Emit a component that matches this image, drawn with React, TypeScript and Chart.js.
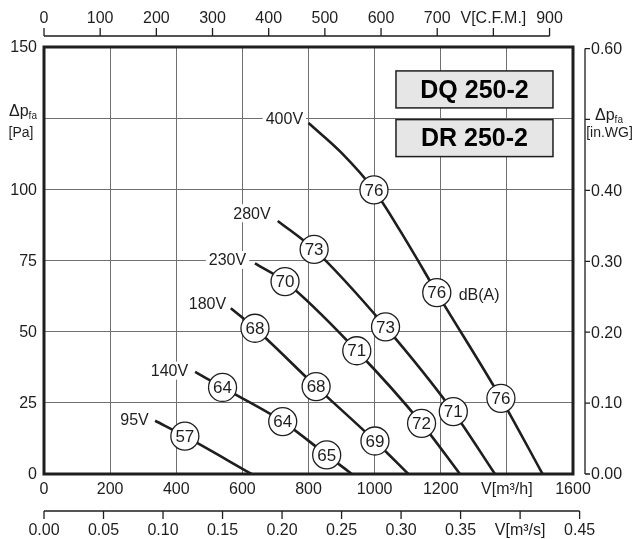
import React, { useEffect, useRef } from 'react';
import { Chart, registerables } from 'chart.js';

Chart.register(...registerables);

const FONT = '"Liberation Sans", Arial, Helvetica, sans-serif';

// ---- Data ----
const voltages = ['400V', '280V', '230V', '180V', '140V', '95V'];

// fan curves: [V m3/h, dp Pa]
const curve400 = [[800, 123.3], [900, 112.8], [998, 99.8], [1107, 79.7], [1188, 63.7], [1382, 26.6], [1508, 0]];
const curve280 = [[707, 88.9], [817, 78.9], [1033, 51.7], [1238, 21.9], [1364, 0]];
const curve230 = [[638, 74.0], [729, 67.6], [946, 43.3], [1142, 17.8], [1258, 0]];
const curve180 = [[565, 58.2], [638, 51.2], [823, 30.7], [1001, 11.6], [1102, 0]];
const curve140 = [[457, 35.9], [540, 30.4], [722, 18.4], [855, 6.7], [931, 0]];
const curve95 = [[336, 18.7], [426, 13.3], [628, 0]];
const curves = [curve400, curve280, curve230, curve180, curve140, curve95];

// sound level marks: [V m3/h, dp Pa, dB(A)]
const noise400 = [[998, 99.8, 76], [1188, 63.7, 76], [1382, 26.6, 76]];
const noise280 = [[817, 78.9, 73], [1033, 51.7, 73], [1238, 21.9, 71]];
const noise230 = [[729, 67.6, 70], [946, 43.3, 71], [1142, 17.8, 72]];
const noise180 = [[638, 51.2, 68], [823, 30.7, 68], [1001, 11.6, 69]];
const noise140 = [[540, 30.4, 64], [722, 18.4, 64], [855, 6.7, 65]];
const noise95 = [[426, 13.3, 57]];
const noisePoints = [...noise400, ...noise280, ...noise230, ...noise180, ...noise140, ...noise95];

// voltage label anchors (data units)
const voltLabelX = [727, 629, 555, 494.5, 379.6, 273.7];
const voltLabelY = [124.7, 91.6, 75.2, 59.8, 36.3, 19.1];
const dbUnitLabel = 'dB(A)';
const dbUnitAnchor = [1316, 62.9];

// model boxes (centre anchors, data units)
const models = ['DQ 250-2', 'DR 250-2'];
const modelX = [1302, 1302];
const modelY = [135.1, 118.0];

// axes
const flowTickValues = [0, 200, 400, 600, 800, 1000, 1200, 1400, 1600];
const flowTickLabels = ['0', '200', '400', '600', '800', '1000', '1200', 'V[m³/h]', '1600'];
const cfmTickValues = [0, 100, 200, 300, 400, 500, 600, 700, 800, 900];
const cfmTickLabels = ['0', '100', '200', '300', '400', '500', '600', '700', 'V[C.F.M.]', '900'];
const m3sTickValues = [0, 0.05, 0.1, 0.15, 0.2, 0.25, 0.3, 0.35, 0.4, 0.45];
const m3sTickLabels = ['0.00', '0.05', '0.10', '0.15', '0.20', '0.25', '0.30', '0.35', 'V[m³/s]', '0.45'];
const paTickValues = [0, 25, 50, 75, 100, 150];
const paTickLabels = ['0', '25', '50', '75', '100', '150'];
const inwgTickValues = [0, 0.1, 0.2, 0.3, 0.4, 0.5, 0.6];
const inwgTickLabels = ['0.00', '0.10', '0.20', '0.30', '0.40', '', '0.60'];

const FLOW_MAX = 1600;
const PA_MAX = 150;
const CFM_PER_M3H = 1 / 1.699;
const M3S_PER_M3H = 1 / 3600;
const INWG_PER_PA = 1 / 249.09;

const INK = '#1e1e1e';

const decorPlugin = {
  id: 'decor',
  beforeDatasetsDraw(chart: any) {
    const ctx = chart.ctx;
    const xs = chart.scales.x;
    const ys = chart.scales.y;
    ctx.save();
    // voltage labels with white backing
    ctx.font = `16px ${FONT}`;
    ctx.textAlign = 'center';
    ctx.textBaseline = 'middle';
    voltages.forEach((t, i) => {
      const px = xs.getPixelForValue(voltLabelX[i]);
      const py = ys.getPixelForValue(voltLabelY[i]);
      const w = ctx.measureText(t).width;
      ctx.fillStyle = '#fff';
      ctx.fillRect(px - w / 2 - 3, py - 9, w + 6, 18);
      ctx.fillStyle = INK;
      ctx.fillText(t, px, py + 1);
    });
    ctx.fillText(dbUnitLabel, xs.getPixelForValue(dbUnitAnchor[0]), ys.getPixelForValue(dbUnitAnchor[1]) + 1);

    // model boxes
    models.forEach((t, i) => {
      const cx = xs.getPixelForValue(modelX[i]);
      const cy = ys.getPixelForValue(modelY[i]);
      const bw = 157, bh = 37;
      ctx.fillStyle = '#e6e6e6';
      ctx.fillRect(cx - bw / 2, cy - bh / 2, bw, bh);
      ctx.lineWidth = 1.5;
      ctx.strokeStyle = INK;
      ctx.strokeRect(cx - bw / 2, cy - bh / 2, bw, bh);
      ctx.fillStyle = '#000';
      ctx.font = `bold 25px ${FONT}`;
      ctx.textAlign = 'center';
      ctx.textBaseline = 'middle';
      ctx.fillText(t, cx, cy + 1.5);
    });
    ctx.restore();
  },
  afterDatasetsDraw(chart: any) {
    const ctx = chart.ctx;
    const xs = chart.scales.x;
    const ys = chart.scales.y;
    const xc = chart.scales.xCfm;
    const xm = chart.scales.xM3s;
    const yi = chart.scales.yInwg;
    const area = chart.chartArea;
    ctx.save();

    // dB values in circles
    const meta = chart.getDatasetMeta(0);
    ctx.font = `17px ${FONT}`;
    ctx.fillStyle = INK;
    ctx.textAlign = 'center';
    ctx.textBaseline = 'middle';
    meta.data.forEach((el: any, i: number) => {
      ctx.fillText(String(noisePoints[i][2]), el.x, el.y + 1);
    });

    // frame
    ctx.lineWidth = 3;
    ctx.strokeStyle = INK;
    ctx.strokeRect(area.left, area.top, area.right - area.left, area.bottom - area.top);

    ctx.font = `16px ${FONT}`;
    ctx.fillStyle = INK;
    // left tick labels
    ctx.textAlign = 'right';
    ctx.textBaseline = 'middle';
    paTickValues.forEach((v, i) => {
      ctx.fillText(paTickLabels[i], area.left - 7, ys.getPixelForValue(v) + 1);
    });
    // bottom tick labels
    ctx.textAlign = 'center';
    flowTickValues.forEach((v, i) => {
      ctx.fillText(flowTickLabels[i], xs.getPixelForValue(v), area.bottom + 16);
    });

    ctx.lineWidth = 1.3;
    ctx.strokeStyle = INK;
    // top CFM axis
    const topY = area.top - 11;
    ctx.beginPath();
    ctx.moveTo(xc.getPixelForValue(0), topY);
    ctx.lineTo(xc.getPixelForValue(900), topY);
    cfmTickValues.forEach((v) => {
      const px = xc.getPixelForValue(v);
      ctx.moveTo(px, topY);
      ctx.lineTo(px, topY - 8);
    });
    ctx.stroke();
    cfmTickValues.forEach((v, i) => {
      ctx.fillText(cfmTickLabels[i], xc.getPixelForValue(v), topY - 17);
    });

    // bottom m3/s axis
    const botY = area.bottom + 37;
    ctx.beginPath();
    ctx.moveTo(xm.getPixelForValue(0), botY);
    ctx.lineTo(xm.getPixelForValue(0.45), botY);
    m3sTickValues.forEach((v) => {
      const px = xm.getPixelForValue(v);
      ctx.moveTo(px, botY);
      ctx.lineTo(px, botY + 8);
    });
    ctx.stroke();
    m3sTickValues.forEach((v, i) => {
      ctx.fillText(m3sTickLabels[i], xm.getPixelForValue(v), botY + 20);
    });

    // right in.WG axis
    const rx = area.right + 12;
    ctx.beginPath();
    ctx.moveTo(rx, yi.getPixelForValue(0));
    ctx.lineTo(rx, yi.getPixelForValue(0.6));
    inwgTickValues.forEach((v) => {
      const py = yi.getPixelForValue(v);
      ctx.moveTo(rx, py);
      ctx.lineTo(rx + 5, py);
    });
    ctx.stroke();
    ctx.textAlign = 'left';
    inwgTickValues.forEach((v, i) => {
      if (inwgTickLabels[i]) ctx.fillText(inwgTickLabels[i], rx + 6, yi.getPixelForValue(v) + 1);
    });

    // axis titles
    const drawDp = (cx: number, base: number) => {
      ctx.textBaseline = 'alphabetic';
      ctx.font = `16px ${FONT}`;
      const w1 = ctx.measureText('Δp').width;
      ctx.font = `10px ${FONT}`;
      const w2 = ctx.measureText('fa').width;
      const sx = cx - (w1 + w2) / 2;
      ctx.textAlign = 'left';
      ctx.font = `16px ${FONT}`;
      ctx.fillText('Δp', sx, base);
      ctx.font = `10px ${FONT}`;
      ctx.fillText('fa', sx + w1, base + 3);
    };
    drawDp(23, 116);
    drawDp(609, 120);
    ctx.font = `14px ${FONT}`;
    ctx.textAlign = 'center';
    ctx.textBaseline = 'alphabetic';
    ctx.fillText('[Pa]', 21, 137);
    ctx.fillText('[in.WG]', 609.5, 137);

    ctx.restore();
  },
};

export default function App() {
  const canvasRef = useRef<HTMLCanvasElement | null>(null);

  useEffect(() => {
    document.body.style.margin = '0';
    const canvas = canvasRef.current;
    if (!canvas) return;

    const datasets: any[] = [
      {
        label: 'dB(A)',
        data: noisePoints.map((p) => ({ x: p[0], y: p[1] })),
        showLine: false,
        pointRadius: 14,
        pointHoverRadius: 14,
        pointBackgroundColor: '#ffffff',
        pointBorderColor: INK,
        pointBorderWidth: 1.3,
        order: 0,
      },
      ...curves.map((c, i) => ({
        label: voltages[i],
        data: c.map((p) => ({ x: p[0], y: p[1] })),
        borderColor: INK,
        borderWidth: 2.6,
        pointRadius: 0,
        fill: false,
        cubicInterpolationMode: 'monotone',
        order: 1,
      })),
    ];

    const chart = new Chart(canvas, {
      type: 'line',
      data: { datasets },
      plugins: [decorPlugin],
      options: {
        animation: false,
        responsive: true,
        maintainAspectRatio: false,
        events: [],
        layout: { padding: { left: 44, top: 47, right: 62, bottom: 65 } },
        plugins: { legend: { display: false }, tooltip: { enabled: false } },
        scales: {
          x: {
            type: 'linear',
            position: 'bottom',
            min: 0,
            max: FLOW_MAX,
            ticks: { display: false, stepSize: 200 },
            border: { display: false },
            grid: { color: '#707070', lineWidth: 1, drawTicks: false },
            afterFit: (s: any) => { s.height = 0; },
          },
          y: {
            type: 'linear',
            position: 'left',
            min: 0,
            max: PA_MAX,
            ticks: { display: false, stepSize: 25 },
            border: { display: false },
            grid: { color: '#707070', lineWidth: 1, drawTicks: false },
            afterFit: (s: any) => { s.width = 0; },
          },
          xCfm: {
            type: 'linear',
            display: false,
            position: 'top',
            min: 0,
            max: FLOW_MAX * CFM_PER_M3H,
          },
          xM3s: {
            type: 'linear',
            display: false,
            position: 'bottom',
            min: 0,
            max: FLOW_MAX * M3S_PER_M3H,
          },
          yInwg: {
            type: 'linear',
            display: false,
            position: 'right',
            min: 0,
            max: PA_MAX * INWG_PER_PA,
          },
        },
      } as any,
    });

    return () => chart.destroy();
  }, []);

  return (
    <div style={{ position: 'fixed', left: 0, top: 0, width: 635, height: 539, background: '#fff' }}>
      <canvas ref={canvasRef} />
    </div>
  );
}
